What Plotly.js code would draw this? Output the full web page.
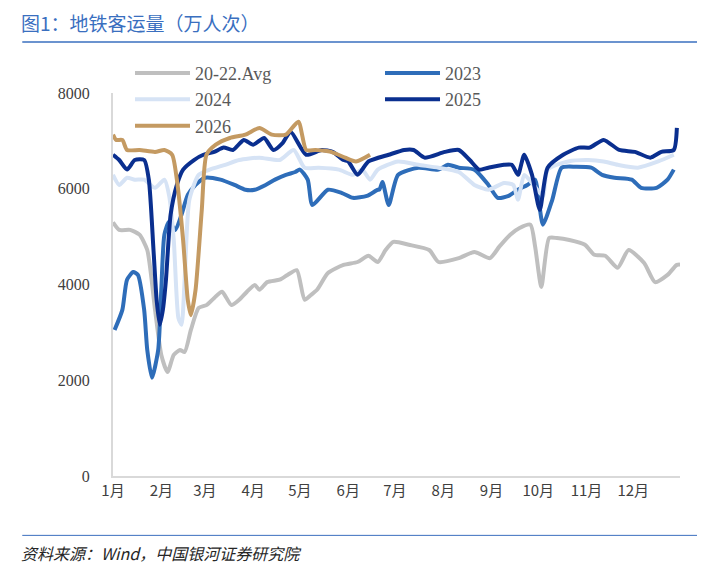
<!DOCTYPE html>
<html>
<head>
<meta charset="utf-8">
<script src="https://cdn.plot.ly/plotly-3.0.1.min.js"></script>
<style>body{margin:0;background:#fff}#chart{width:719px;height:582px}</style>
</head>
<body>
<div id="chart"></div>
<script>
// Day-of-year positions and values (万人次).
const avgDays = [1,5,12,18,23,28,32,36,40,44,47,51,56,61,66,71,77,82,87,92,95,100,108,113,119,124,128,132,139,149,158,165,171,176,181,191,204,210,223,233,243,249,256,262,269,272,276,281,286,294,304,310,317,325,332,342,349,357,363,367];
const avgVals = [5300,5140,5140,5040,4720,3470,2530,2170,2530,2630,2590,3050,3510,3570,3720,3850,3570,3680,3850,3990,3890,4050,4100,4200,4300,3680,3780,3890,4240,4410,4470,4600,4470,4720,4890,4830,4720,4470,4550,4680,4550,4790,5040,5180,5250,4790,3950,4970,4970,4930,4830,4620,4600,4350,4720,4450,4050,4200,4410,4410];

const d23Days = [2,7,10,14,17,21,23,26,30,32,34,37,41,45,49,54,60,70,79,86,92,99,105,112,118,121,126,129,139,148,155,164,171,172,174,178,184,197,210,216,223,233,242,248,255,261,267,272,274,277,283,289,298,308,315,323,334,340,350,357,361];
const d23Vals = [3050,3470,4100,4260,4200,3470,2630,2050,2630,3890,5040,5310,5140,5460,5870,6080,6230,6190,6080,5980,5980,6080,6190,6290,6350,6400,6190,5660,5980,5910,5810,5850,5980,5980,6140,5660,6290,6440,6400,6500,6440,6400,6080,5810,5850,5980,6080,6190,5850,5250,5770,6440,6460,6440,6290,6230,6190,6020,6020,6190,6400];

const d24Days = [1,5,10,15,21,28,34,37,40,43,45,47,50,56,63,73,82,95,108,117,124,133,146,155,161,166,171,184,197,210,223,233,242,252,258,261,265,271,277,280,293,306,316,325,338,351,361];
const d24Vals = [6290,6080,6230,6190,6190,6020,6190,5860,4930,3300,3160,4100,5770,6290,6400,6500,6600,6650,6600,6810,6440,6440,6400,6290,6400,6190,6400,6570,6500,6440,6350,6080,5980,6120,6080,5770,6290,6080,5850,6400,6570,6600,6570,6500,6440,6570,6710];

const d25Days = [1,5,10,15,21,24,27,29,31,33,35,38,42,46,53,59,66,72,78,85,91,98,104,110,115,125,135,142,149,152,158,165,178,188,194,201,214,223,230,236,242,252,257,261,265,270,275,280,290,300,307,316,326,336,346,353,361,363];
const d25Vals = [6710,6600,6400,6600,6600,6190,4720,3680,3160,3470,4100,5460,6080,6400,6600,6710,6770,6860,6810,7020,6920,7060,6810,6960,7190,6710,6810,6770,6600,6570,6290,6570,6710,6810,6810,6650,6770,6810,6600,6400,6440,6500,6500,6290,6710,6290,5560,6440,6710,6860,6860,7020,6810,6770,6650,6770,6810,7270];

const d26Days = [1,3,7,10,18,28,34,39,42,46,49,51,54,58,61,67,76,86,95,103,112,120,125,131,141,150,157,166];
const d26Vals = [7130,7020,7020,6810,6810,6770,6810,6710,6190,4930,3680,3360,3890,5560,6710,6920,7060,7130,7270,7130,7130,7400,6810,6810,6770,6650,6570,6710];

const names = ['20-22.Avg', '2023', '2024', '2025', '2026'];
const colors = ['#BFBFBF', '#2E6DB9', '#D6E3F5', '#0A2F8F', '#C49A62'];
const seriesX = [avgDays, d23Days, d24Days, d25Days, d26Days];
const seriesY = [avgVals, d23Vals, d24Vals, d25Vals, d26Vals];

const monthTicks = [1, 32, 60, 91, 121, 152, 182, 213, 244, 274, 305, 335];
const monthLabels = ['1月','2月','3月','4月','5月','6月','7月','8月','9月','10月','11月','12月'];

const traces = names.map((n, i) => ({
    x: seriesX[i], y: seriesY[i], name: n, type: 'scatter', mode: 'lines',
    line: { color: colors[i], width: 4, shape: 'spline', smoothing: 0.6 }
}));

const serif = 'Liberation Serif, serif';
Plotly.newPlot('chart', traces, {
    width: 719, height: 582,
    margin: { l: 113, r: 39, t: 93, b: 106 },
    paper_bgcolor: '#fff', plot_bgcolor: '#fff',
    font: { family: serif, size: 16, color: '#595959' },
    xaxis: {
        range: [1, 365], tickvals: monthTicks, ticktext: monthLabels,
        showgrid: false, zeroline: false, showline: true, linecolor: '#D9D9D9', linewidth: 2,
        ticks: '', tickfont: { family: 'Noto Sans CJK SC, ' + serif, size: 15, color: '#404040' }
    },
    yaxis: {
        range: [0, 8000], tickvals: [0, 2000, 4000, 6000, 8000],
        showgrid: false, zeroline: false, showline: true, linecolor: '#D9D9D9', linewidth: 2,
        ticks: '', ticklabelstandoff: 18, tickfont: { family: serif, size: 16, color: '#404040' }
    },
    showlegend: true,
    legend: {
        orientation: 'h', x: 0.03, y: 1.1, xanchor: 'left', yanchor: 'top',
        entrywidth: 180, entrywidthmode: 'pixels', itemwidth: 55, tracegroupgap: 0,
        font: { family: serif, size: 18, color: '#595959' }, bgcolor: 'rgba(0,0,0,0)'
    },
    annotations: [
        { text: '图1：地铁客运量（万人次）', xref: 'paper', yref: 'paper', x: -0.165, y: 1.185,
          xanchor: 'left', yanchor: 'middle', showarrow: false,
          font: { family: 'Noto Sans CJK SC', size: 19, color: '#3A6FBF' } },
        { text: '<i>资料来源：Wind，中国银河证券研究院</i>', xref: 'paper', yref: 'paper', x: -0.165, y: -0.2,
          xanchor: 'left', yanchor: 'middle', showarrow: false,
          font: { family: 'Noto Sans CJK SC', size: 16, color: '#262626' } }
    ],
    shapes: [
        { type: 'line', xref: 'paper', yref: 'paper', x0: -0.16, x1: 1.03, y0: 1.133, y1: 1.133,
          line: { color: '#3A6FBF', width: 1.5 } },
        { type: 'line', xref: 'paper', yref: 'paper', x0: -0.16, x1: 1.03, y0: -0.155, y1: -0.155,
          line: { color: '#3A6FBF', width: 1 } }
    ]
}, { displayModeBar: false });
</script>
</body>
</html>
